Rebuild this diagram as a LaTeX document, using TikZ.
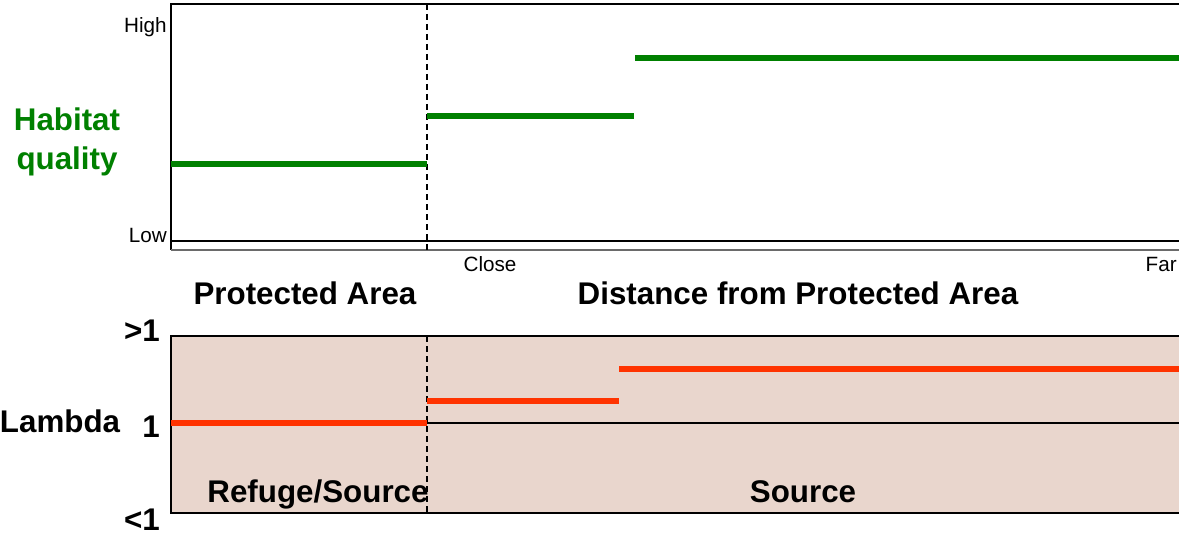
\documentclass[tikz,border=0pt]{standalone}
\usepackage{fontspec}
\setmainfont{Liberation Sans}
\usepackage{xcolor}
\usetikzlibrary{positioning}
\definecolor{habgreen}{HTML}{008000}
\definecolor{lamred}{HTML}{FF3300}
\definecolor{lamfill}{HTML}{E9D6CD}
\definecolor{axgray}{HTML}{6A6A6A}
\tikzset{
  biglabel/.style={
    font=\fontsize{23.5}{27}\selectfont\bfseries, text=#1,
    inner sep=0pt
  },
  biglabel/.default=black,
  ticklabel/.style={
    font=\fontsize{15.5}{18}\selectfont, inner sep=0pt
  },
  frameline/.style={line width=1.5pt, color=#1},
  frameline/.default=black,
  levelline/.style={line width=3.8pt, color=#1, line cap=butt},
  levelline/.default=habgreen,
  boundary/.style={dash pattern=on 4.5pt off 3pt, line width=0.8pt},
}

\begin{document}
\begin{tikzpicture}[x=0.75pt, y=-0.75pt]
  \useasboundingbox (0,0) rectangle (1179,535);
  % Habitat quality panel
  \draw[frameline] (1179,4) -- (171,4) -- (171,250);
  \draw[frameline] (171,241) -- (1179,241);
  \draw[frameline=axgray, line width=1.1pt] (171,250) -- (1179,250);
  \draw[boundary] (427,4) -- (427,250);
  \draw[levelline] (171,164) -- (427,164);
  \draw[levelline] (427,116) -- (634,116);
  \draw[levelline] (635,58) -- (1179,58);
  \node[ticklabel, anchor=base east] (high) at (167,33) {High};
  \node[ticklabel, anchor=base east] (low) at (167,242) {Low};
  \node[biglabel=habgreen, anchor=base] (hab-1) at (67,131) {Habitat};
  \node[biglabel=habgreen, anchor=base] (hab-2) at (67,169) {quality};
  \node[ticklabel, anchor=base] (close) at (490,271) {Close};
  \node[ticklabel, anchor=base east] (far) at (1177,271) {Far};
  \node[biglabel, anchor=base] (pa) at (305,304) {Protected Area};
  \node[biglabel, anchor=base] (dist) at (798,304) {Distance from Protected Area};
  % Lambda panel
  \fill[lamfill] (171,336) rectangle (1179,513);
  \draw[frameline] (1179,336) -- (171,336) -- (171,513) -- (1179,513);
  \draw[line width=1.1pt] (427,423) -- (1179,423);
  \draw[boundary] (427,336) -- (427,513);
  \draw[levelline=lamred] (171,423) -- (427,423);
  \draw[levelline=lamred] (427,401) -- (619,401);
  \draw[levelline=lamred] (619,369) -- (1179,369);
  \node[biglabel, anchor=base east] (gt1) at (160,341) {>1};
  \node[biglabel, anchor=base east] (eq1) at (160,437) {1};
  \node[biglabel, anchor=base east] (lt1) at (160,530) {<1};
  \node[biglabel, anchor=base] (lambda) at (60,432) {Lambda};
  \node[biglabel, anchor=base] (refuge) at (318,502) {Refuge/Source};
  \node[biglabel, anchor=base] (source) at (803,502) {Source};
\end{tikzpicture}
\end{document}
